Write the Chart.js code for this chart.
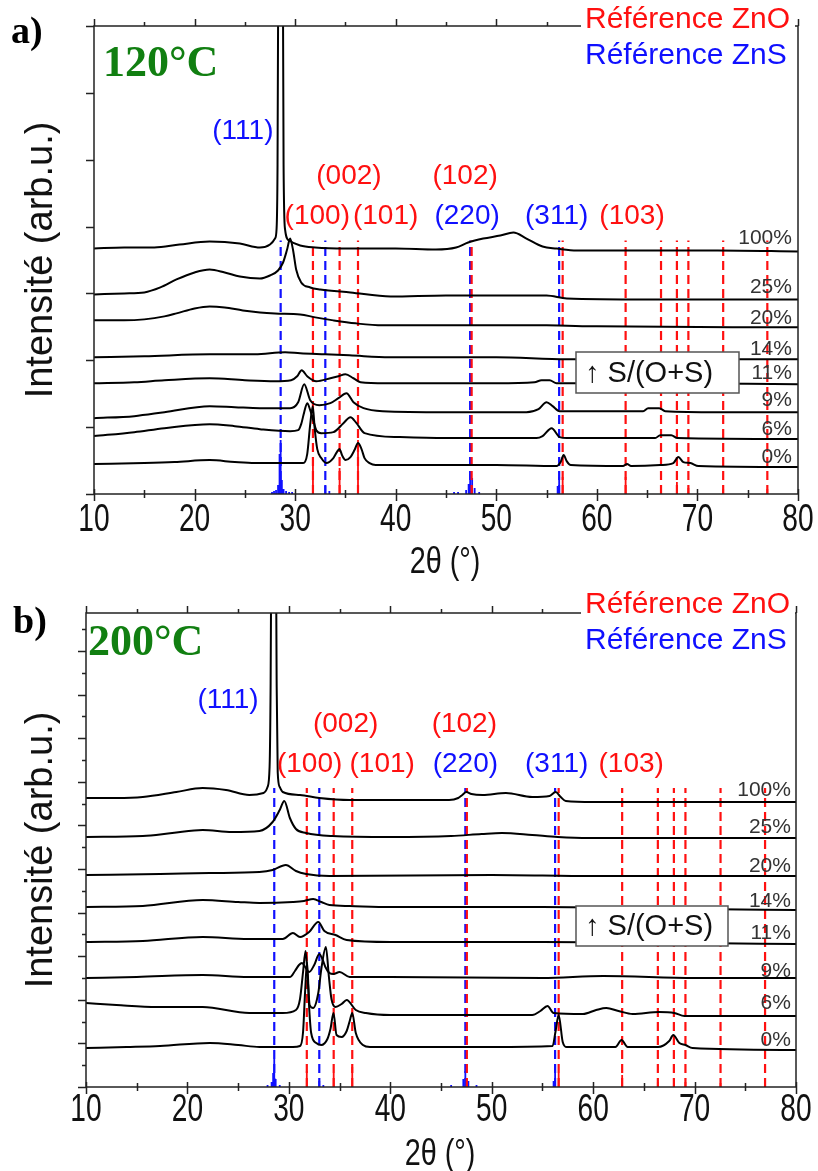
<!DOCTYPE html>
<html>
<head>
<meta charset="utf-8">
<script src="https://cdn.jsdelivr.net/npm/chart.js@4.4.0/dist/chart.umd.min.js"></script>
<style>
  body { margin: 0; background: #fff; width: 818px; height: 1171px; position: relative; overflow: hidden; }
  canvas { position: absolute; left: 0; }
  #pa { top: 0; }
  #pb { top: 585px; }
</style>
</head>
<body>
<canvas id="pa" width="818" height="585"></canvas>
<canvas id="pb" width="818" height="586"></canvas>
<script>
// sample labels, top to bottom
const samples = ['100%', '25%', '20%', '14%', '11%', '9%', '6%', '0%'];

// reference peak positions (2theta)
const znsPos = [28.56, 33.0, 47.4, 56.25];
const znoPos = [31.77, 34.42, 36.25, 47.55, 56.6, 62.86, 66.38, 67.96, 69.1, 72.56, 76.95];

// reference patterns at the bottom (position, height)
const znsStickA = [27.7, 27.9, 28.1, 28.3, 28.45, 28.56, 28.68, 28.85, 29.1, 29.4, 29.7, 33.0, 33.4, 45.8, 46.2, 47.0, 47.25, 47.4, 47.6, 47.85, 48.3, 56.1, 56.25];
const znsHA     = [2, 3, 4, 9, 40, 54, 14, 5, 3, 2, 2, 8, 3, 2, 2, 4, 10, 20, 16, 6, 2, 8, 17];
const znoStickA = [31.77, 34.42, 36.25, 47.55, 56.6, 62.86, 66.38, 67.96, 69.1, 72.56, 76.95];
const znoHA     = [32, 26, 54, 8, 17, 17, 6, 12, 6, 5, 5];
const znsStickB = [27.9, 28.3, 28.45, 28.56, 28.7, 29.1, 33.0, 33.4, 46.0, 47.2, 47.4, 47.7, 48.5, 56.1, 56.25];
const znsHB     = [2, 5, 14, 28, 8, 2, 6, 2, 2, 8, 16, 6, 2, 6, 14];
const znoStickB = [31.77, 34.42, 36.25, 47.55, 56.6, 62.86, 66.38, 67.96, 69.1, 72.56, 76.95];
const znoHB     = [16, 14, 20, 6, 14, 12, 5, 8, 5, 4, 4];

// a) 120 C patterns [2theta, intensity incl. offset]
const a100 = [[10,246],[13,247],[16,247],[18.5,250],[21.5,253],[24.5,251],[26.5,247],[27.5,250],[28.0,256],[28.15,265],[28.25,330],[28.35,600],[28.55,1500],[28.75,600],[28.85,330],[29.0,265],[29.4,254],[30.5,249],[32,247],[35,246],[40,246],[44,245],[46,247],[47.2,252],[48.7,256],[50.4,259],[51.7,262],[53,256],[54.6,248],[56,246],[58,244],[65,244],[72,244],[80,243]];
const a25 = [[10,200],[13,201],[15,202],[16.6,207],[18.2,215],[20,222],[21.5,225],[23,222],[24.5,218],[26.5,216],[27.5,219],[28.3,224],[28.8,232],[29.2,245],[29.5,256],[29.8,244],[30.1,225],[30.6,212],[31.5,207],[32.5,205],[35.5,202],[39.5,198],[45,199],[50,199],[55,199],[57,196],[65,195],[80,195]];
const a20 = [[10,174],[13,174],[15,175],[17,178],[18.2,181],[20,186],[21.5,188],[23,187],[24.8,184],[26.5,182],[28,181],[30.5,180],[32,177],[33.8,174],[36,171],[38.7,169],[45,169],[55,169],[60,168],[80,167]];
const a14 = [[10,137],[15,138],[21.5,140],[26,140],[29,142],[30.5,141],[33,140],[35.4,139],[39.4,137],[50,137],[57,135],[80,135]];
const a11 = [[10,111],[14,112],[17,114],[21.5,116],[25,114],[28,113],[29.6,114],[30.2,118],[30.65,124],[31.2,118],[32.1,113],[33.5,116],[34.3,118],[35.0,120],[35.8,116],[36.5,112],[39,111],[50,111],[53.8,112],[54.5,114],[55.3,114],[56,111],[65,111],[80,110]];
const a9 = [[10,76],[14,78],[17,82],[21.5,88],[24,87],[26.5,86],[29.5,86],[30.3,92],[30.9,110],[31.5,94],[32.4,89],[33.5,91],[34.3,96],[35.1,101],[35.8,92],[36.8,86],[38.7,83],[45,82],[53,82],[54.2,85],[55.0,92],[55.6,88],[56.3,83],[60,83],[64.6,83],[65.1,86],[66.2,86],[66.8,83],[72,82],[80,82]];
const a6 = [[10,58],[14,62],[17,66],[21.5,70],[24,68],[26.5,65],[29.5,63],[30.3,64],[30.6,70],[30.9,82],[31.2,91],[31.5,84],[31.8,74],[32.1,64],[32.6,61],[33.8,62],[34.8,71],[35.5,77],[36.1,71],[36.9,61],[40.4,57],[45,56],[54,56],[54.6,58],[55.5,66],[56.3,57],[57,56],[65.8,56],[66.3,59],[67.4,59],[68,56],[80,55]];
const a0 = [[10,30],[15,31],[18,32],[21.5,34],[24,32],[26,31],[30.8,31],[31.2,40],[31.5,70],[31.75,88],[31.95,65],[32.2,45],[32.6,36],[33.1,31],[33.8,36],[34.15,42],[34.4,45],[34.7,38],[35.0,34],[35.5,37],[35.9,44],[36.25,51],[36.6,45],[36.9,36],[37.4,31],[38,29],[50,29],[56,28],[56.4,32],[56.7,39],[57.0,33],[57.4,29],[62.6,28],[63.0,30],[63.4,28],[66.3,29],[67.6,31],[68.1,37],[68.6,32],[69.3,31],[70.1,28],[80,27]];

// b) 200 C patterns
const b100 = [[10,289],[13,289],[15.6,290],[18.9,295],[21.5,299],[23.8,297],[26.1,292],[27.5,294],[27.9,300],[28.1,320],[28.2,400],[28.3,600],[28.5,1500],[28.7,600],[28.8,400],[28.9,315],[29.1,300],[29.4,295],[31.1,292],[33,289],[36,287],[45.8,287],[46.7,289],[47.1,292],[47.5,295],[48,293],[49.1,292],[51.4,294],[54,290],[55.7,291],[56.3,295],[56.8,290],[57.3,286],[60,285],[80,285]];
const b25 = [[10,250],[15.6,251],[18.5,254],[21.5,257],[24.4,255],[27.1,256],[28.4,265],[29.1,277],[29.55,286],[30.1,269],[30.7,258],[31.7,254],[34.3,251],[40,250],[46,251],[49,253],[51,254],[54,252],[56.5,250],[59.6,249],[80,249]];
const b20 = [[10,212],[17.3,213],[22.2,214],[27.1,215],[28.4,217],[29.7,222],[30.7,216],[31.7,213],[34,211],[50,212],[60,211],[80,211]];
const b14 = [[10,180],[15.6,181],[21.5,187],[25,185],[27.1,184],[30.4,185],[31.5,186],[32.4,188],[33.2,185],[34,182],[36,181],[40,180],[55,180],[70,178],[80,177]];
const b11 = [[10,145],[15.6,146],[21.5,150],[26,148],[29.4,148],[30.4,154],[31.1,150],[32.0,155],[32.9,165],[33.5,156],[34.6,152],[35.7,147],[40,145],[55,145],[70,144],[80,143]];
const b9 = [[10,109],[15,110],[21.5,112],[26,110],[30.1,110],[30.6,116],[31.0,122],[31.3,124],[31.6,120],[32.0,115],[32.5,122],[33.0,133],[33.3,128],[33.6,120],[34.0,114],[34.4,113],[35.0,115],[36,110],[40,110],[55,109],[61,111],[70,109],[80,109]];
const b6 = [[10,84],[13,82],[17,80],[21.5,80],[26.1,74],[29.4,74],[30.7,77],[31.1,88],[31.4,115],[31.65,136],[31.85,110],[32.05,82],[32.4,79],[32.9,94],[33.2,118],[33.65,140],[33.95,110],[34.2,88],[34.6,80],[35.2,83],[35.7,87],[36.6,77],[37.6,74],[40,72],[54,72],[54.8,76],[55.5,81],[56.1,74],[59,73],[60.3,77],[61.3,79],[62.5,76],[63.9,73],[66.5,75],[68,74],[69,71],[80,71]];
const b0 = [[10,39],[14,40],[17.3,41],[22.2,44],[25,42],[27.1,40],[30.4,40],[31.1,41],[31.4,55],[31.6,95],[31.8,125],[32.0,80],[32.2,54],[32.7,44],[33.2,42],[33.8,48],[34.1,58],[34.4,74],[34.7,52],[35.2,50],[35.7,56],[36.0,66],[36.25,74],[36.6,54],[37.3,42],[38,40],[50,40],[56,41],[56.3,56],[56.6,72],[57.0,45],[57.4,40],[62.2,40],[62.8,47],[63.4,40],[66.4,40],[67.5,46],[67.9,52],[68.5,44],[69.1,42],[69.8,39],[80,37]];

// peak index labels
const peakNames = ['(111)', '(002)', '(102)', '(100)', '(101)', '(220)', '(311)', '(103)'];
const peakPhase = ['ZnS', 'ZnO', 'ZnO', 'ZnO', 'ZnO', 'ZnS', 'ZnS', 'ZnO'];

const RED = '#ff1010', BLUE = '#1010ff', GREEN = '#117f11';

function pts(arr) { return arr.map(p => ({ x: p[0], y: p[1] })); }
function sticks(pos, h) {
  const out = [];
  pos.forEach((x, i) => { out.push({ x: x, y: 0 }, { x: x, y: h[i] }, { x: x, y: null }); });
  return out;
}

function narrow(ctx, s, x, y, sx) {
  ctx.save();
  ctx.translate(x, y);
  ctx.scale(sx, 1);
  ctx.fillText(s, 0, 0);
  ctx.restore();
}

const decor = {
  id: 'decor',
  afterDraw(chart, args, o) {
    const ctx = chart.ctx, a = chart.chartArea;
    const x = chart.scales.x, y = chart.scales.y;
    ctx.save();

    // sample labels
    ctx.fillStyle = '#333';
    ctx.font = '21px "Liberation Sans"';
    ctx.textAlign = 'right';
    ctx.textBaseline = 'middle';
    samples.forEach((s, i) => ctx.fillText(s, x.getPixelForValue(o.pctX), y.getPixelForValue(o.pctY[i])));

    // peak labels
    ctx.font = '28px "Liberation Sans"';
    ctx.textAlign = 'center';
    peakNames.forEach((s, i) => {
      ctx.fillStyle = peakPhase[i] === 'ZnO' ? RED : BLUE;
      ctx.fillText(s, x.getPixelForValue(o.peakX[i]), y.getPixelForValue(o.peakY[i]));
    });

    // box
    const bx = o.box;
    ctx.textAlign = 'left';
    ctx.fillStyle = '#fff';
    ctx.fillRect(bx[0], bx[1], bx[2], bx[3]);
    ctx.strokeStyle = '#555';
    ctx.lineWidth = 1.5;
    ctx.strokeRect(bx[0], bx[1], bx[2], bx[3]);
    ctx.fillStyle = '#111';
    ctx.font = '29px "Liberation Sans"';
    ctx.fillText('\u2191 S/(O+S)', bx[0] + 9, bx[1] + bx[3] / 2 + 1);

    // temperature and panel letter
    ctx.textBaseline = 'alphabetic';
    ctx.font = 'bold 44px "Liberation Serif"';
    ctx.fillStyle = GREEN;
    ctx.fillText(o.temp, o.tempPos[0], o.tempPos[1]);
    ctx.font = 'bold 38px "Liberation Serif"';
    ctx.fillStyle = '#000';
    ctx.fillText(o.letter, o.letterPos[0], o.letterPos[1]);

    // frame
    ctx.strokeStyle = '#222';
    ctx.lineWidth = 1.5;
    ctx.strokeRect(a.left, a.top, a.right - a.left, a.bottom - a.top);

    // x ticks, bottom and top
    ctx.beginPath();
    for (let v = 10; v <= 80; v += 5) {
      const px = Math.round(x.getPixelForValue(v)) + 0.5;
      const major = v % 10 === 0;
      ctx.moveTo(px, a.bottom - (major ? 5 : 4));
      ctx.lineTo(px, a.bottom + (major ? 7 : 4));
      ctx.moveTo(px, a.top);
      ctx.lineTo(px, a.top - (major ? 7 : 4));
    }
    // y ticks
    for (let k = 0; k * o.yStep <= y.max + 0.01; k++) {
      const py = Math.round(y.getPixelForValue(k * o.yStep)) + 0.5;
      const len = o.altTicks ? (k % 2 === 0 ? 8 : 4) : 8;
      ctx.moveTo(a.left, py);
      ctx.lineTo(a.left - len, py);
    }
    ctx.stroke();

    // legend, on a white ground over the frame
    ctx.font = '30px "Liberation Sans"';
    ctx.textBaseline = 'middle';
    ctx.fillStyle = '#fff';
    ctx.fillRect(o.legendX - 4, o.legendY[0] - 17, 214, 72);
    ctx.fillStyle = RED;
    ctx.fillText('Référence ZnO', o.legendX, o.legendY[0]);
    ctx.fillStyle = BLUE;
    ctx.fillText('Référence ZnS', o.legendX, o.legendY[1]);

    // x tick labels
    ctx.fillStyle = '#111';
    ctx.textAlign = 'center';
    ctx.font = '38px "Liberation Sans"';
    for (let v = 10; v <= 80; v += 10) {
      narrow(ctx, String(v), x.getPixelForValue(v), a.bottom + o.tickGap, 0.74);
    }
    ctx.font = '36px "Liberation Sans"';
    narrow(ctx, '2\u03b8 (\u00b0)', (a.left + a.right) / 2 - 1, a.bottom + o.titleGap, 0.8);

    // y title
    ctx.save();
    ctx.translate(o.yTitleX, (a.top + a.bottom) / 2);
    ctx.rotate(-Math.PI / 2);
    ctx.font = '38px "Liberation Sans"';
    ctx.fillText('Intensité (arb.u.)', 0, 0);
    ctx.restore();

    ctx.restore();
  }
};

function makePanel(id, p) {
  const ds = [];
  p.curves.forEach((c, i) => ds.push({
    label: samples[i], data: pts(c), borderColor: '#000', borderWidth: 2,
    pointRadius: 0, cubicInterpolationMode: 'monotone', clip: 0
  }));
  ds.push({ label: 'ZnO', data: sticks(znoPos, znoPos.map(() => p.refTop)), borderColor: RED, borderWidth: 2.2, borderDash: [9, 5], pointRadius: 0, spanGaps: false });
  ds.push({ label: 'ZnS', data: sticks(znsPos, znsPos.map(() => p.refTop)), borderColor: BLUE, borderWidth: 2.2, borderDash: [9, 5], pointRadius: 0, spanGaps: false });
  ds.push({ label: 'ZnO ref', data: sticks(p.znoStick, p.znoH), borderColor: RED, borderWidth: 1.8, pointRadius: 0, spanGaps: false });
  ds.push({ label: 'ZnS ref', data: sticks(p.znsStick, p.znsH), borderColor: BLUE, borderWidth: 1.8, pointRadius: 0, spanGaps: false });

  new Chart(document.getElementById(id), {
    type: 'line',
    data: { datasets: ds },
    options: {
      responsive: false,
      animation: false,
      events: [],
      layout: { padding: p.pad },
      scales: {
        x: { type: 'linear', min: 10, max: 80, display: false },
        y: { min: 0, max: p.yMax, display: false }
      },
      plugins: {
        legend: { display: false },
        tooltip: { enabled: false },
        decor: p.decor
      }
    },
    plugins: [decor]
  });
}

makePanel('pa', {
  curves: [a100, a25, a20, a14, a11, a9, a6, a0],
  yMax: 469, refTop: 254,
  znsStick: znsStickA, znsH: znsHA, znoStick: znoStickA, znoH: znoHA,
  pad: { left: 94, right: 20, top: 26, bottom: 91 },
  decor: {
    yStep: 67, altTicks: false, tickGap: 27, titleGap: 69, yTitleX: 42,
    pctX: 79.4, pctY: [256.5, 207.5, 176.5, 145.5, 121.5, 93.5, 64.5, 36.5],
    peakX: [24.8, 35.35, 46.9, 32.2, 39.0, 47.1, 56.0, 63.5],
    peakY: [363, 318, 318, 278, 278, 278, 278, 278],
    legendX: 585, legendY: [20, 56],
    box: [576, 352, 163, 41],
    temp: '120°C', tempPos: [103, 76],
    letter: 'a)', letterPos: [11, 43]
  }
});

makePanel('pb', {
  curves: [b100, b25, b20, b14, b11, b9, b6, b0],
  yMax: 474, refTop: 299,
  znsStick: znsStickB, znsH: znsHB, znoStick: znoStickB, znoH: znoHB,
  pad: { left: 86, right: 22, top: 28, bottom: 84 },
  decor: {
    yStep: 21.8, altTicks: true, tickGap: 24, titleGap: 68, yTitleX: 42,
    pctX: 79.5, pctY: [297, 259.5, 221, 186, 154, 116, 84, 47],
    peakX: [24.0, 35.6, 47.3, 32.05, 39.2, 47.4, 56.4, 63.75],
    peakY: [387, 363, 363, 323, 323, 323, 323, 323],
    legendX: 585, legendY: [20, 56],
    box: [576, 321, 152, 40],
    temp: '200°C', tempPos: [88, 70],
    letter: 'b)', letterPos: [13, 48]
  }
});
</script>
</body>
</html>
